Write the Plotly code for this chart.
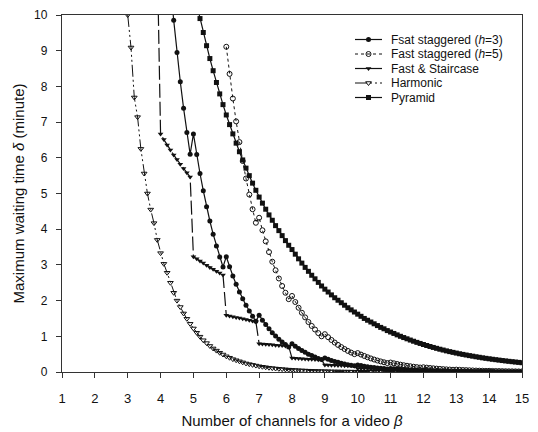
import plotly.graph_objects as go

# ---- data ----
h3_start = 4.0
fast_stag_h3 = [
    14.4, 13.1, 11.9, 10.84, 9.85, 8.95, 8.13, 7.39, 6.71, 6.10,
    6.67, 6.09, 5.56, 5.08, 4.63, 4.23, 3.86, 3.53, 3.22, 2.94,
    3.23, 2.95, 2.69, 2.46, 2.24, 2.05, 1.87, 1.71, 1.56, 1.42,
    1.59, 1.45, 1.33, 1.21, 1.10, 1.01, 0.92, 0.84, 0.77, 0.70,
    0.79, 0.72, 0.66, 0.60, 0.55, 0.50, 0.46, 0.42, 0.38, 0.35,
    0.39, 0.356, 0.325, 0.297, 0.271, 0.247, 0.226, 0.206, 0.188, 0.172,
    0.196, 0.179, 0.163, 0.149, 0.136, 0.124, 0.114, 0.104, 0.095, 0.086,
    0.098, 0.089, 0.082, 0.075, 0.068, 0.062, 0.057, 0.052, 0.047, 0.043,
    0.049, 0.045, 0.041, 0.037, 0.034, 0.031, 0.028, 0.026, 0.024, 0.022,
    0.024, 0.022, 0.020, 0.018, 0.017, 0.015, 0.014, 0.013, 0.012, 0.011,
    0.012, 0.011, 0.010, 0.009, 0.008, 0.008, 0.007, 0.006, 0.006, 0.005,
    0.006,
]

h5_start = 6.0
fast_stag_h5 = [
    9.11, 8.35, 7.66, 7.02, 6.44, 5.91, 5.42, 4.97, 4.56, 4.18,
    4.32, 3.97, 3.66, 3.36, 3.09, 2.85, 2.62, 2.41, 2.22, 2.04,
    2.13, 1.96, 1.80, 1.66, 1.53, 1.40, 1.29, 1.19, 1.09, 1.00,
    1.06, 0.975, 0.897, 0.825, 0.759, 0.698, 0.643, 0.591, 0.544, 0.500,
    0.53, 0.488, 0.449, 0.413, 0.380, 0.349, 0.321, 0.296, 0.272, 0.250,
    0.265, 0.244, 0.224, 0.206, 0.190, 0.175, 0.161, 0.148, 0.136, 0.125,
    0.133, 0.122, 0.112, 0.103, 0.095, 0.087, 0.080, 0.074, 0.068, 0.063,
    0.066, 0.061, 0.056, 0.052, 0.048, 0.044, 0.040, 0.037, 0.034, 0.031,
    0.033, 0.030, 0.028, 0.026, 0.024, 0.022, 0.020, 0.019, 0.017, 0.016,
    0.017,
]

stair_start = 3.9
fast_staircase = [
    11.6,
    6.67, 6.51, 6.36, 6.22, 6.08, 5.95, 5.82, 5.70, 5.58, 5.46,
    3.23, 3.17, 3.11, 3.05, 2.99, 2.93, 2.88, 2.82, 2.77, 2.72,
    1.59, 1.57, 1.55, 1.53, 1.51, 1.49, 1.47, 1.45, 1.43, 1.41,
    0.79, 0.785, 0.78, 0.77, 0.76, 0.75, 0.745, 0.74, 0.73, 0.72,
    0.39, 0.384, 0.378, 0.372, 0.366, 0.36, 0.355, 0.35, 0.345, 0.34,
    0.196, 0.193, 0.19, 0.187, 0.184, 0.181, 0.178, 0.175, 0.172, 0.17,
    0.098, 0.096, 0.095, 0.093, 0.092, 0.09, 0.089, 0.088, 0.086, 0.085,
    0.049, 0.048, 0.047, 0.047, 0.046, 0.045, 0.044, 0.044, 0.043, 0.043,
    0.024, 0.024, 0.024, 0.023, 0.023, 0.023, 0.022, 0.022, 0.022, 0.021,
    0.012, 0.012, 0.012, 0.012, 0.011, 0.011, 0.011, 0.011, 0.011, 0.011,
    0.006, 0.006, 0.006, 0.006, 0.006, 0.006, 0.005, 0.005, 0.005, 0.005,
    0.003,
]

harm_start = 3.0
harmonic = [
    10.0, 9.09, 7.69, 7.14, 6.25, 5.56, 5.00, 4.55, 4.17, 3.70,
    3.33, 3.03, 2.78, 2.50, 2.22, 2.00, 1.82, 1.64, 1.49, 1.35,
    1.22, 1.10, 0.99, 0.89, 0.81, 0.73, 0.66, 0.60, 0.54, 0.49,
    0.44, 0.40, 0.36, 0.33, 0.30, 0.27, 0.24, 0.22, 0.20, 0.18,
    0.16, 0.147, 0.133, 0.120, 0.109, 0.098, 0.089, 0.081, 0.073, 0.066,
    0.060, 0.054, 0.049, 0.044, 0.040, 0.036, 0.033, 0.030, 0.027, 0.024,
    0.022, 0.020, 0.018, 0.016, 0.015, 0.013, 0.012, 0.011, 0.010, 0.009,
    0.008, 0.007, 0.007, 0.006, 0.006, 0.005, 0.005, 0.004, 0.004, 0.004,
    0.003, 0.003, 0.003, 0.003, 0.003, 0.002, 0.002, 0.002, 0.002, 0.002,
    0.002, 0.001, 0.001, 0.001, 0.001, 0.001, 0.001, 0.001, 0.001, 0.001,
    0.001, 0.001, 0.001, 0.001, 0.001, 0.001, 0.001, 0.001, 0.001, 0.001,
    0.001, 0.001, 0.001, 0.001, 0.001, 0.001, 0.001, 0.001, 0.001, 0.001,
    0.001,
]

pyr_start = 5.1
pyramid = [
    10.3, 9.90, 9.51, 9.14, 8.78, 8.44, 8.11, 7.79, 7.49,
    7.20, 6.93, 6.67, 6.41, 6.17, 5.94, 5.71, 5.50, 5.29, 5.09,
    4.90, 4.73, 4.56, 4.40, 4.25, 4.10, 3.96, 3.82, 3.68, 3.55,
    3.43, 3.30, 3.17, 3.05, 2.93, 2.82, 2.71, 2.61, 2.51, 2.41,
    2.32, 2.24, 2.16, 2.08, 2.01, 1.94, 1.87, 1.80, 1.74, 1.68,
    1.62, 1.56, 1.50, 1.45, 1.40, 1.35, 1.30, 1.25, 1.21, 1.16,
    1.12, 1.08, 1.04, 1.00, 0.965, 0.93, 0.895, 0.862, 0.83, 0.80,
    0.77, 0.742, 0.715, 0.688, 0.663, 0.638, 0.615, 0.592, 0.571, 0.550,
    0.53, 0.511, 0.493, 0.476, 0.459, 0.443, 0.427, 0.412, 0.397, 0.383,
    0.37, 0.357, 0.345, 0.333, 0.321, 0.310, 0.299, 0.289, 0.279, 0.269,
    0.26,
]

x_ticks = list(range(1, 16))
y_ticks = list(range(0, 11))

legend_names = [
    "Fsat staggered (<i>h</i>=3)",
    "Fast staggered (<i>h</i>=5)",
    "Fast & Staircase",
    "Harmonic",
    "Pyramid",
]


def xs(start, vals):
    return [round(start + 0.1 * i, 1) for i in range(len(vals))]


FONT = "Liberation Sans, Arial, sans-serif"
BLACK = "#111111"

HARM_DASH = "12px,3px,2px,3px,2px,3px"
STAIR_DASH = "14px,4px"

styles = [
    dict(line=dict(color=BLACK, width=1.2),
         marker=dict(symbol="circle", size=5, color=BLACK)),
    dict(line=dict(color=BLACK, width=1, dash="dot"),
         marker=dict(symbol="circle-open", size=5, color=BLACK, line=dict(width=1))),
    dict(line=dict(color=BLACK, width=1.2, dash=STAIR_DASH),
         marker=dict(symbol="triangle-down", size=5, color=BLACK)),
    dict(line=dict(color=BLACK, width=1, dash=HARM_DASH),
         marker=dict(symbol="triangle-down-open", size=5, color=BLACK, line=dict(width=1))),
    dict(line=dict(color=BLACK, width=1.2),
         marker=dict(symbol="square", size=5, color=BLACK)),
]

series = [
    (h3_start, fast_stag_h3),
    (h5_start, fast_stag_h5),
    (stair_start, fast_staircase),
    (harm_start, harmonic),
    (pyr_start, pyramid),
]

fig = go.Figure()
for (start, vals), name, st in zip(series, legend_names, styles):
    fig.add_trace(go.Scatter(
        x=xs(start, vals), y=vals, mode="lines+markers", name=name,
        line=st["line"], marker=st["marker"], showlegend=False,
    ))

# ---- hand-placed legend (pixel-like overlay axes) ----
LEG_X0, LEG_X1, LEG_TXT = 355, 382, 389
LEG_Y0, LEG_DY = 39.5, 14.5
annotations = []
for i, (name, st) in enumerate(zip(legend_names, styles)):
    yy = LEG_Y0 + LEG_DY * i
    line_style = dict(st["line"])
    if line_style.get("dash") == STAIR_DASH:
        line_style["dash"] = "solid"
    fig.add_trace(go.Scatter(
        x=[LEG_X0, LEG_X1], y=[yy, yy], mode="lines", line=line_style,
        xaxis="x2", yaxis="y2", showlegend=False, hoverinfo="skip",
    ))
    fig.add_trace(go.Scatter(
        x=[(LEG_X0 + LEG_X1) / 2], y=[yy], mode="markers", marker=st["marker"],
        xaxis="x2", yaxis="y2", showlegend=False, hoverinfo="skip",
    ))
    annotations.append(dict(
        x=LEG_TXT, y=yy, xref="x2", yref="y2", text=name, showarrow=False,
        xanchor="left", yanchor="middle",
        font=dict(family=FONT, size=12, color=BLACK),
    ))

fig.update_layout(
    width=538, height=432,
    margin=dict(l=62, r=16, t=15, b=60),
    paper_bgcolor="white", plot_bgcolor="white",
    font=dict(family=FONT, size=12, color=BLACK),
    showlegend=False,
    annotations=annotations,
    xaxis=dict(
        range=[1, 15], tickmode="array", tickvals=x_ticks,
        ticks="outside", ticklen=5, tickwidth=1, tickcolor="#333",
        showline=True, linecolor="#333", linewidth=1.3, mirror=True,
        showgrid=False, zeroline=False, ticklabelstandoff=9,
        automargin=False,
        tickfont=dict(family=FONT, size=13, color=BLACK),
        title=dict(text="Number of channels for a video <i>β</i>",
                   font=dict(family=FONT, size=15, color=BLACK), standoff=10),
    ),
    yaxis=dict(
        range=[0, 10], tickmode="array", tickvals=y_ticks,
        ticks="outside", ticklen=5, tickwidth=1, tickcolor="#333",
        showline=True, linecolor="#333", linewidth=1.3, mirror=True,
        showgrid=False, zeroline=False, ticklabelstandoff=6,
        automargin=False,
        tickfont=dict(family=FONT, size=12, color=BLACK),
        title=dict(text="Maximum waiting time <i>δ</i> (minute)",
                   font=dict(family=FONT, size=15, color=BLACK), standoff=5),
    ),
    xaxis2=dict(overlaying="x", anchor="y2", range=[62, 522], visible=False,
                fixedrange=True, automargin=False),
    yaxis2=dict(overlaying="y", anchor="x2", range=[372, 15], visible=False,
                fixedrange=True, automargin=False),
)

fig.write_html("out.html")
